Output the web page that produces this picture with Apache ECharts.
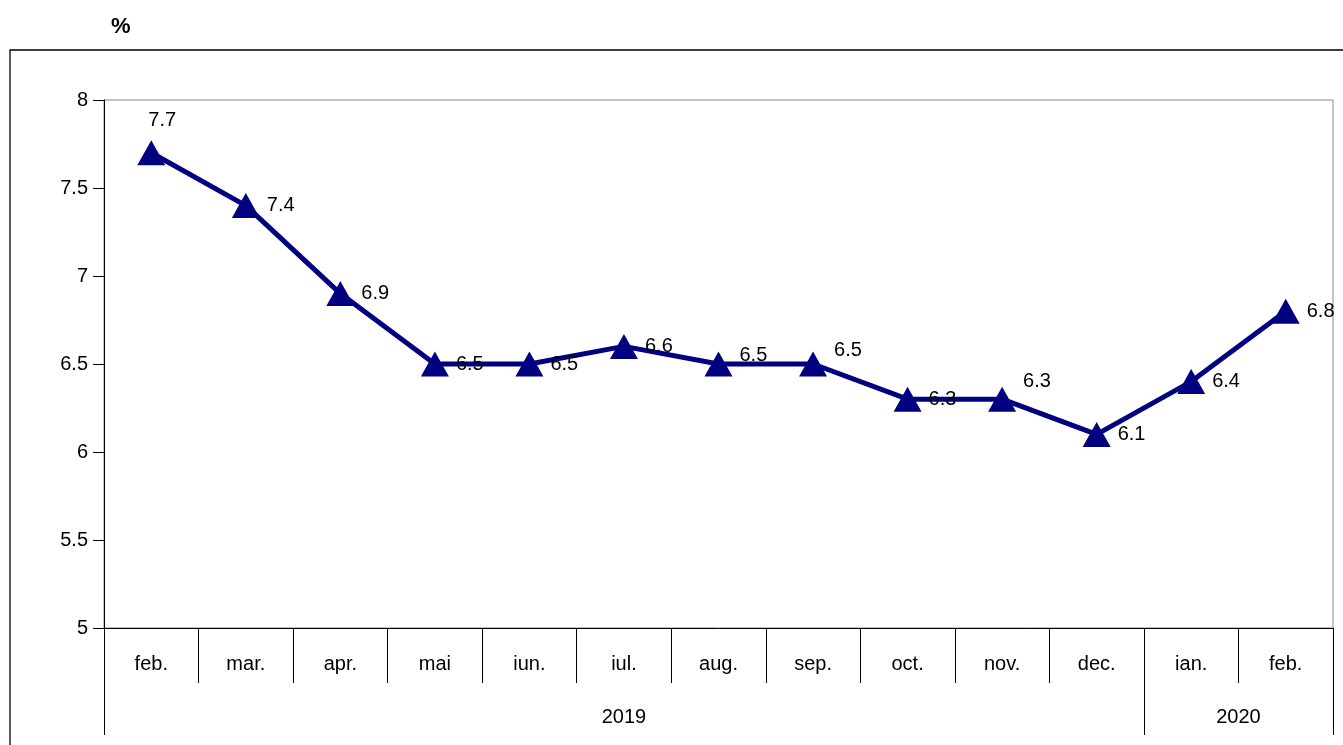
<!DOCTYPE html>
<html>
<head>
<meta charset="utf-8">
<script src="https://cdn.jsdelivr.net/npm/echarts@6/dist/echarts.min.js"></script>
<style>
  html, body { margin: 0; padding: 0; background: #fff; }
  #chart { width: 1343px; height: 745px; }
</style>
</head>
<body>
<div id="chart"></div>
<script>
// date
const months = ["feb.", "mar.", "apr.", "mai", "iun.", "iul.", "aug.", "sep.", "oct.", "nov.", "dec.", "ian.", "feb."];
const values = [7.7, 7.4, 6.9, 6.5, 6.5, 6.6, 6.5, 6.5, 6.3, 6.3, 6.1, 6.4, 6.8];
const years = ["2019", "2020"];
const yearSpans = [11, 2]; // cate luni are fiecare an

// pozitii pentru axa cu anii (inceput/sfarsit si mijloc)
const yearBounds = [0];
const yearCenters = [];
yearSpans.forEach((n, i) => {
  yearCenters.push(yearBounds[i] + n / 2);
  yearBounds.push(yearBounds[i] + n);
});

// etichete mutate putin in sus, ca in original
const labelLift = { 0: "top", 6: -9, 7: -14, 9: -18 };

const chart = echarts.init(document.getElementById("chart"));
const font = "Liberation Sans, Arial, sans-serif";
const fs = 20;

const option = {
  animation: false,
  textStyle: { fontFamily: font },
  graphic: [
    {
      type: "rect",
      shape: { x: 10, y: 50, width: 1400, height: 800 },
      style: { fill: "none", stroke: "#000", lineWidth: 1.3 },
      silent: true,
    },
    {
      type: "text",
      left: 111,
      top: 16,
      style: { text: "%", font: "bold 22px " + font, fill: "#000" },
    },
  ],
  grid: {
    left: 104,
    right: 10,
    top: 100,
    bottom: 117,
    show: true,
    borderColor: "#888",
    borderWidth: 1,
  },
  xAxis: [
    {
      type: "category",
      data: months,
      boundaryGap: true,
      axisLine: { lineStyle: { color: "#000", width: 1 } },
      axisTick: { show: true, interval: 0, length: 55, lineStyle: { color: "#000" } },
      axisLabel: { interval: 0, color: "#000", fontSize: fs, margin: 26, fontFamily: font },
    },
    {
      type: "value",
      position: "bottom",
      offset: 55,
      min: 0,
      max: months.length,
      axisLine: { show: false },
      splitLine: { show: false },
      axisTick: {
        show: true,
        length: 52,
        customValues: yearBounds,
        lineStyle: { color: "#000" },
      },
      axisLabel: {
        customValues: yearCenters,
        color: "#000",
        fontSize: fs,
        margin: 24,
        fontFamily: font,
        formatter: (v) => years[yearCenters.indexOf(v)] || "",
      },
    },
  ],
  yAxis: {
    type: "value",
    min: 5,
    max: 8,
    interval: 0.5,
    splitLine: { show: false },
    axisLine: { show: true, lineStyle: { color: "#000" } },
    axisTick: { show: true, length: 11, lineStyle: { color: "#000" } },
    axisLabel: { color: "#000", fontSize: fs, margin: 16, fontFamily: font },
  },
  series: [
    {
      type: "line",
      xAxisIndex: 0,
      data: values.map((v, i) => {
        const lift = labelLift[i];
        if (lift === "top") {
          return { value: v, label: { position: "top", distance: 10, offset: [11, 0] } };
        }
        if (lift) {
          return { value: v, label: { offset: [0, lift] } };
        }
        return v;
      }),
      symbol: "triangle",
      symbolSize: [28, 25],
      lineStyle: { color: "#000080", width: 5 },
      itemStyle: { color: "#000080" },
      label: {
        show: true,
        position: "right",
        distance: 7,
        color: "#000",
        fontSize: fs,
        fontFamily: font,
      },
      z: 5,
    },
  ],
};

chart.setOption(option);
</script>
</body>
</html>
